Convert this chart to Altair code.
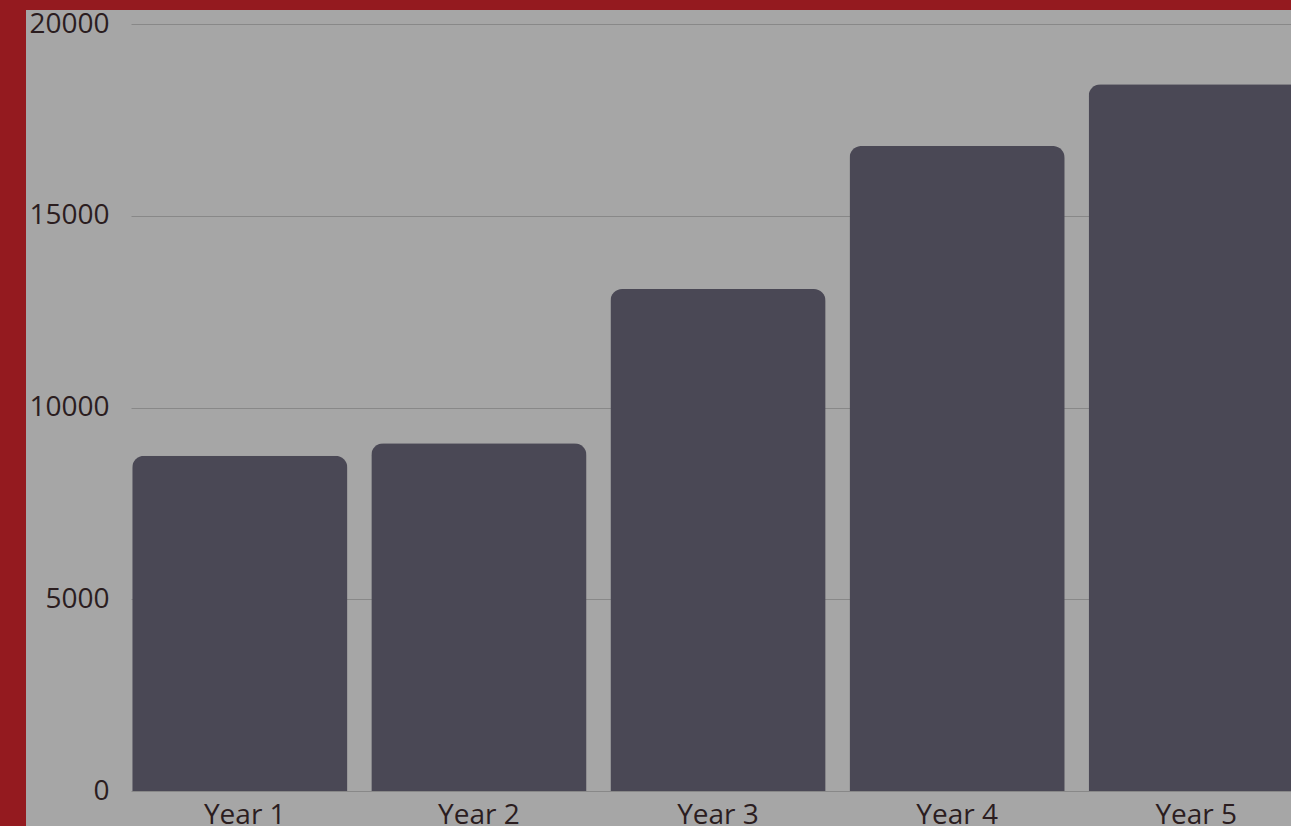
import altair as alt
import pandas as pd
import jinja2

years = ["Year 1", "Year 2", "Year 3", "Year 4", "Year 5"]
values = [8740, 9070, 13090, 16820, 18430]
y_ticks = [0, 5000, 10000, 15000, 20000]

df = pd.DataFrame({"year": years, "value": values})

FONT = "Open Sans"
TEXT = "#2b1d1f"


def build(first_offset):
    x_axis_kw = dict(
        labelAngle=0, domain=False, ticks=False, grid=False,
        labelFont=FONT, labelFontSize=28, labelColor=TEXT, labelPadding=10,
    )
    if first_offset:
        x_axis_kw["labelOffset"] = {
            "condition": {"test": "datum.value === 'Year 1'", "value": 5},
            "value": 0,
        }
    return (
        alt.Chart(df)
        .mark_bar(color="#4a4855", cornerRadiusTopLeft=12, cornerRadiusTopRight=12)
        .encode(
            x=alt.X(
                "year:N",
                sort=years,
                title=None,
                scale=alt.Scale(paddingInner=0.1, paddingOuter=0.005),
                axis=alt.Axis(**x_axis_kw),
            ),
            y=alt.Y(
                "value:Q",
                title=None,
                scale=alt.Scale(domain=[0, 20000], nice=False),
                axis=alt.Axis(
                    values=y_ticks, format="d", domain=False, ticks=False,
                    grid=True, gridColor="#888888", gridWidth=1,
                    labelFont=FONT, labelFontSize=28, labelColor=TEXT, labelPadding=22,
                ),
            ),
        )
        .properties(
            width=1174,
            height=767,
            background="#a6a6a6",
            padding={"left": 2, "top": 0, "right": 0, "bottom": 0},
        )
        .configure_view(stroke=None)
    )


try:
    chart = build(True)
    chart.to_dict()
except Exception:
    chart = build(False)

TEMPLATE = jinja2.Template("""<!DOCTYPE html>
<html>
<head>
<style>
  html, body { background: #941a1f; overflow: hidden; }
  body { margin: 10px 0 0 26px; }
</style>
<script type="text/javascript" src="{{ base_url }}/vega@{{ vega_version }}"></script>
<script type="text/javascript" src="{{ base_url }}/vega-lite@{{ vegalite_version }}"></script>
<script type="text/javascript" src="{{ base_url }}/vega-embed@{{ vegaembed_version }}"></script>
</head>
<body>
<div id="{{ output_div }}"></div>
<script type="text/javascript">
  (function(vegaEmbed) {
    var spec = {{ spec }};
    var embedOpt = {{ embed_options }};
    embedOpt.mode = "{{ mode }}";
    vegaEmbed("#{{ output_div }}", spec, embedOpt).catch(console.error);
  })(vegaEmbed);
</script>
</body>
</html>
""")

try:
    chart.save("out.html", embed_options={"renderer": "svg", "actions": False}, template=TEMPLATE)
except Exception:
    chart.save("out.html", embed_options={"renderer": "svg", "actions": False})
